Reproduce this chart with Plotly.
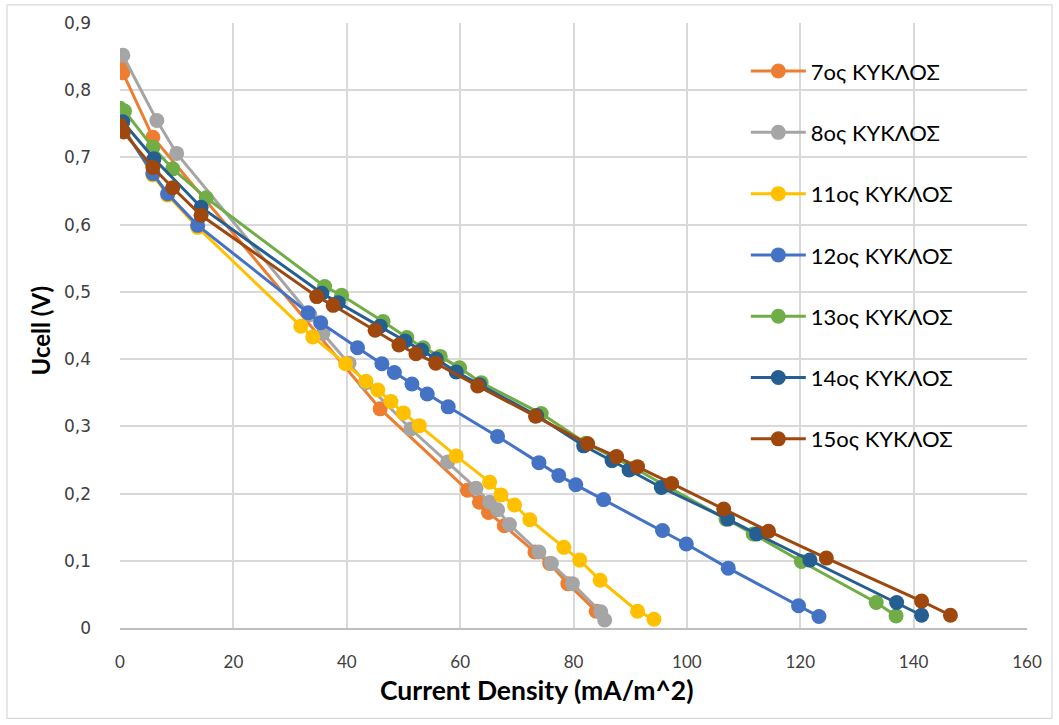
import plotly.graph_objects as go

# Polarisation curves, cell voltage vs current density, per cycle
x_7 = [0, 0.5, 5.8, 45.9, 61.3, 63.4, 65.0, 67.8, 73.2, 75.8, 79.0, 84.0]
y_7 = [0.837, 0.826, 0.730, 0.326, 0.205, 0.187, 0.172, 0.152, 0.113, 0.096, 0.066, 0.025]

x_8 = [0.5, 6.5, 10.0, 33.5, 35.8, 40.4, 43.3, 51.3, 57.8, 62.8, 65.2, 66.6, 68.7,
       73.9, 76.1, 79.8, 84.8, 85.5]
y_8 = [0.852, 0.755, 0.706, 0.466, 0.438, 0.394, 0.365, 0.296, 0.247, 0.208, 0.187,
       0.176, 0.154, 0.113, 0.096, 0.066, 0.024, 0.012]

x_11 = [0, 5.8, 8.4, 13.7, 31.9, 34.0, 39.8, 43.4, 45.5, 47.8, 50.0, 52.8, 59.3, 65.2,
        67.2, 69.6, 72.3, 78.3, 81.1, 84.7, 91.3, 94.2]
y_11 = [0.753, 0.674, 0.644, 0.596, 0.449, 0.433, 0.393, 0.367, 0.354, 0.337, 0.320,
        0.301, 0.256, 0.217, 0.198, 0.183, 0.161, 0.120, 0.101, 0.071, 0.025, 0.013]

x_12 = [0, 5.8, 8.4, 13.7, 33.2, 35.4, 41.9, 46.2, 48.4, 51.5, 54.2, 57.9, 66.6, 73.9,
        77.4, 80.4, 85.3, 95.7, 99.9, 107.3, 119.7, 123.3]
y_12 = [0.750, 0.676, 0.646, 0.599, 0.469, 0.454, 0.417, 0.393, 0.380, 0.363, 0.348,
        0.329, 0.285, 0.246, 0.227, 0.213, 0.191, 0.145, 0.125, 0.089, 0.033, 0.017]

x_13 = [0, 0.8, 5.8, 9.3, 15.2, 36.1, 39.1, 46.4, 50.6, 53.5, 56.5, 59.9, 63.7, 74.3,
        82.2, 87.2, 90.7, 96.2, 106.9, 111.7, 120.2, 133.4, 136.9]
y_13 = [0.773, 0.769, 0.715, 0.683, 0.640, 0.508, 0.495, 0.456, 0.432, 0.417, 0.404,
        0.387, 0.365, 0.319, 0.275, 0.253, 0.238, 0.212, 0.162, 0.140, 0.099, 0.038, 0.018]

x_14 = [0.5, 6.0, 14.3, 35.6, 38.5, 45.9, 50.3, 53.2, 55.8, 59.3, 63.4, 73.5, 81.8,
        86.8, 89.8, 95.5, 107.2, 112.3, 121.7, 137.0, 141.4]
y_14 = [0.753, 0.698, 0.626, 0.498, 0.484, 0.449, 0.427, 0.413, 0.400, 0.381, 0.362,
        0.316, 0.271, 0.249, 0.235, 0.209, 0.162, 0.140, 0.101, 0.038, 0.019]

x_15 = [0, 0.6, 5.8, 9.3, 14.3, 34.7, 37.6, 45.0, 49.2, 52.2, 55.7, 63.1, 73.3, 82.5,
        87.6, 91.3, 97.3, 106.5, 114.4, 124.6, 141.4, 146.5]
y_15 = [0.748, 0.738, 0.685, 0.655, 0.614, 0.493, 0.480, 0.443, 0.421, 0.408, 0.394,
        0.360, 0.315, 0.274, 0.255, 0.240, 0.215, 0.177, 0.144, 0.104, 0.040, 0.019]

series = [
    ("7ος ΚΥΚΛΟΣ", x_7, y_7, "#ED7D31"),
    ("8ος ΚΥΚΛΟΣ", x_8, y_8, "#A5A5A5"),
    ("11ος ΚΥΚΛΟΣ", x_11, y_11, "#FFC000"),
    ("12ος ΚΥΚΛΟΣ", x_12, y_12, "#4472C4"),
    ("13ος ΚΥΚΛΟΣ", x_13, y_13, "#70AD47"),
    ("14ος ΚΥΚΛΟΣ", x_14, y_14, "#255E91"),
    ("15ος ΚΥΚΛΟΣ", x_15, y_15, "#9E480E"),
]

x_ticks = [0, 20, 40, 60, 80, 100, 120, 140, 160]
y_ticks = [0, 0.1, 0.2, 0.3, 0.4, 0.5, 0.6, 0.7, 0.8, 0.9]

fig = go.Figure()
for i, (name, xs, ys, color) in enumerate(series):
    fig.add_trace(go.Scatter(
        x=xs, y=ys, name=name, mode="lines+markers",
        legendgroup=f"g{i}",
        line=dict(color=color, width=3),
        marker=dict(color=color, size=15, line=dict(width=0)),
    ))

grid = "#D9D9D9"
fig.update_layout(
    width=1059, height=725,
    margin=dict(l=120, r=32, t=23, b=97),
    paper_bgcolor="white", plot_bgcolor="white",
    separators=", ",
    font=dict(family="Lato, Noto Sans, sans-serif", color="#404040"),
    showlegend=True,
    legend=dict(
        x=0.69, y=0.955, xanchor="left", yanchor="top",
        bgcolor="rgba(0,0,0,0)", borderwidth=0,
        font=dict(size=22, color="#000000", family="Lato, Noto Sans, sans-serif"),
        tracegroupgap=29.7, itemwidth=55,
    ),
    xaxis=dict(
        range=[0, 160], tickvals=x_ticks, showgrid=True, gridcolor=grid, gridwidth=1.5,
        zeroline=False, showline=True, linecolor="#BFBFBF", linewidth=1.5,
        ticks="", ticklabelstandoff=18,
        tickfont=dict(size=17, color="#404040"),
    ),
    yaxis=dict(
        range=[0, 0.9], tickvals=y_ticks, showgrid=True, gridcolor=grid, gridwidth=1.5,
        zeroline=False, showline=False,
        ticks="", ticklabelstandoff=28, tickformat=".1~f",
        tickfont=dict(size=17, color="#404040", family="DejaVu Sans, sans-serif"),
    ),
    annotations=[
        dict(text="<b>Current Density (mA/m^2)</b>", xref="paper", yref="paper",
             x=0.46, y=-0.103, xanchor="center", yanchor="middle", showarrow=False,
             font=dict(size=26.5, color="#000000", family="Lato, Noto Sans, sans-serif")),
        dict(text="<b>Ucell (V)</b>", xref="paper", yref="paper",
             x=-0.088, y=0.492, xanchor="center", yanchor="middle", showarrow=False,
             textangle=-90,
             font=dict(size=24, color="#000000", family="Lato, Noto Sans, sans-serif")),
    ],
    shapes=[
        dict(type="rect", xref="paper", yref="paper",
             x0=-0.1246, x1=1.0276, y0=-0.1495, y1=1.0298,
             line=dict(color="#D9D9D9", width=1.2), fillcolor="rgba(0,0,0,0)"),
    ],
)

fig.write_html("out.html")
